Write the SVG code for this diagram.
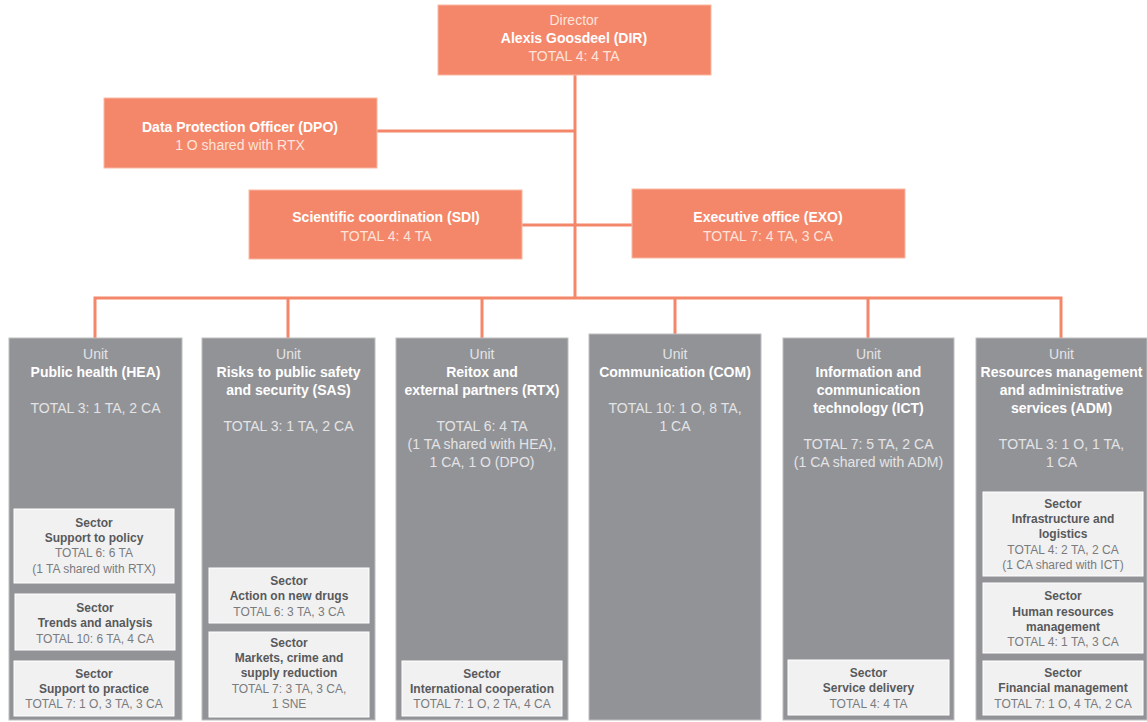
<svg xmlns="http://www.w3.org/2000/svg" width="1147" height="722" viewBox="0 0 1147 722">
<style>
text{font-family:"Liberation Sans",Arial,sans-serif;text-anchor:middle}
.top{fill:#F4876A;stroke:#F9B7A4;stroke-width:1}
.tl{font-size:14px;fill:#FDE3DA}
.tb{font-size:14px;font-weight:bold;fill:#FFFFFF}
.unit{fill:#929397;stroke:#BDBEC0;stroke-width:1}
.ul{font-size:14px;fill:#E4E4E6}
.ub{font-size:14px;font-weight:bold;fill:#FFFFFF}
.sec{fill:#F1F1F2;stroke:#FFFFFF;stroke-width:1}
.sb{font-size:12px;font-weight:bold;fill:#58595B}
.sl{font-size:12px;fill:#7A7B7D}
.con{fill:none;stroke:#F4876A;stroke-width:3}
</style>
<g id="connectors">
<path class="con" d="M575,75 V298"/>
<path class="con" d="M377,131 H575"/>
<path class="con" d="M522,225 H632"/>
<path class="con" d="M95,338 V298 H1061 V338"/>
<path class="con" d="M288,298 V338"/>
<path class="con" d="M482,298 V338"/>
<path class="con" d="M675,298 V334"/>
<path class="con" d="M868,298 V338"/>
</g>
<g id="dir">
<rect class="top" x="438" y="5" width="273" height="70"/>
<text class="tl" x="574" y="25">Director</text>
<text class="tb" x="574" y="43">Alexis Goosdeel (DIR)</text>
<text class="tl" x="574" y="61">TOTAL 4: 4 TA</text>
</g>
<g id="dpo">
<rect class="top" x="104" y="98" width="273" height="70"/>
<text class="tb" x="240" y="132">Data Protection Officer (DPO)</text>
<text class="tl" x="240" y="150">1 O shared with RTX</text>
</g>
<g id="sdi">
<rect class="top" x="249" y="190" width="273" height="69"/>
<text class="tb" x="386" y="222">Scientific coordination (SDI)</text>
<text class="tl" x="386" y="241">TOTAL 4: 4 TA</text>
</g>
<g id="exo">
<rect class="top" x="632" y="189" width="273" height="69"/>
<text class="tb" x="768" y="222">Executive office (EXO)</text>
<text class="tl" x="768" y="241">TOTAL 7: 4 TA, 3 CA</text>
</g>
<g id="hea">
<rect class="unit" x="9" y="338" width="173" height="382"/>
<text class="ul" x="95.5" y="359">Unit</text>
<text class="ub" x="95.5" y="377">Public health (HEA)</text>
<text class="ul" x="95.5" y="413">TOTAL 3: 1 TA, 2 CA</text>
</g>
<g id="hea-policy">
<rect class="sec" x="14" y="509" width="160" height="74"/>
<text class="sb" x="94" y="527">Sector</text>
<text class="sb" x="94" y="542">Support to policy</text>
<text class="sl" x="94" y="557">TOTAL 6: 6 TA</text>
<text class="sl" x="94" y="573">(1 TA shared with RTX)</text>
</g>
<g id="hea-trends">
<rect class="sec" x="15" y="594" width="160" height="56"/>
<text class="sb" x="95" y="612">Sector</text>
<text class="sb" x="95" y="627">Trends and analysis</text>
<text class="sl" x="95" y="643">TOTAL 10: 6 TA, 4 CA</text>
</g>
<g id="hea-practice">
<rect class="sec" x="14" y="661" width="160" height="55"/>
<text class="sb" x="94" y="678">Sector</text>
<text class="sb" x="94" y="693">Support to practice</text>
<text class="sl" x="94" y="708">TOTAL 7: 1 O, 3 TA, 3 CA</text>
</g>
<g id="sas">
<rect class="unit" x="202" y="338" width="173" height="382"/>
<text class="ul" x="288.5" y="359">Unit</text>
<text class="ub" x="288.5" y="377">Risks to public safety</text>
<text class="ub" x="288.5" y="395">and security (SAS)</text>
<text class="ul" x="288.5" y="431">TOTAL 3: 1 TA, 2 CA</text>
</g>
<g id="sas-drugs">
<rect class="sec" x="209" y="568" width="160" height="55"/>
<text class="sb" x="289" y="585">Sector</text>
<text class="sb" x="289" y="600">Action on new drugs</text>
<text class="sl" x="289" y="616">TOTAL 6: 3 TA, 3 CA</text>
</g>
<g id="sas-markets">
<rect class="sec" x="209" y="632" width="160" height="85"/>
<text class="sb" x="289" y="647">Sector</text>
<text class="sb" x="289" y="662">Markets, crime and</text>
<text class="sb" x="289" y="677">supply reduction</text>
<text class="sl" x="289" y="693">TOTAL 7: 3 TA, 3 CA,</text>
<text class="sl" x="289" y="708">1 SNE</text>
</g>
<g id="rtx">
<rect class="unit" x="396" y="338" width="172" height="382"/>
<text class="ul" x="482" y="359">Unit</text>
<text class="ub" x="482" y="377">Reitox and</text>
<text class="ub" x="482" y="395">external partners (RTX)</text>
<text class="ul" x="482" y="431">TOTAL 6: 4 TA</text>
<text class="ul" x="482" y="449">(1 TA shared with HEA),</text>
<text class="ul" x="482" y="467">1 CA, 1 O (DPO)</text>
</g>
<g id="rtx-intl">
<rect class="sec" x="402" y="661" width="160" height="55"/>
<text class="sb" x="482" y="678">Sector</text>
<text class="sb" x="482" y="693">International cooperation</text>
<text class="sl" x="482" y="708">TOTAL 7: 1 O, 2 TA, 4 CA</text>
</g>
<g id="com">
<rect class="unit" x="589" y="334" width="172" height="386"/>
<text class="ul" x="675" y="359">Unit</text>
<text class="ub" x="675" y="377">Communication (COM)</text>
<text class="ul" x="675" y="413">TOTAL 10: 1 O, 8 TA,</text>
<text class="ul" x="675" y="431">1 CA</text>
</g>
<g id="ict">
<rect class="unit" x="783" y="338" width="171" height="382"/>
<text class="ul" x="868.5" y="359">Unit</text>
<text class="ub" x="868.5" y="377">Information and</text>
<text class="ub" x="868.5" y="395">communication</text>
<text class="ub" x="868.5" y="413">technology (ICT)</text>
<text class="ul" x="868.5" y="449">TOTAL 7: 5 TA, 2 CA</text>
<text class="ul" x="868.5" y="467">(1 CA shared with ADM)</text>
</g>
<g id="ict-service">
<rect class="sec" x="788" y="660" width="161" height="55"/>
<text class="sb" x="868.5" y="677">Sector</text>
<text class="sb" x="868.5" y="692">Service delivery</text>
<text class="sl" x="868.5" y="708">TOTAL 4: 4 TA</text>
</g>
<g id="adm">
<rect class="unit" x="976" y="338" width="171" height="382"/>
<text class="ul" x="1061.5" y="359">Unit</text>
<text class="ub" x="1061.5" y="377">Resources management</text>
<text class="ub" x="1061.5" y="395">and administrative</text>
<text class="ub" x="1061.5" y="413">services (ADM)</text>
<text class="ul" x="1061.5" y="449">TOTAL 3: 1 O, 1 TA,</text>
<text class="ul" x="1061.5" y="467">1 CA</text>
</g>
<g id="adm-infra">
<rect class="sec" x="983" y="492" width="160" height="84"/>
<text class="sb" x="1063" y="508">Sector</text>
<text class="sb" x="1063" y="523">Infrastructure and</text>
<text class="sb" x="1063" y="538">logistics</text>
<text class="sl" x="1063" y="554">TOTAL 4: 2 TA, 2 CA</text>
<text class="sl" x="1063" y="569">(1 CA shared with ICT)</text>
</g>
<g id="adm-hr">
<rect class="sec" x="983" y="583" width="160" height="70"/>
<text class="sb" x="1063" y="600">Sector</text>
<text class="sb" x="1063" y="616">Human resources</text>
<text class="sb" x="1063" y="631">management</text>
<text class="sl" x="1063" y="646">TOTAL 4: 1 TA, 3 CA</text>
</g>
<g id="adm-fin">
<rect class="sec" x="983" y="661" width="160" height="54"/>
<text class="sb" x="1063" y="677">Sector</text>
<text class="sb" x="1063" y="692">Financial management</text>
<text class="sl" x="1063" y="708">TOTAL 7: 1 O, 4 TA, 2 CA</text>
</g>
</svg>
